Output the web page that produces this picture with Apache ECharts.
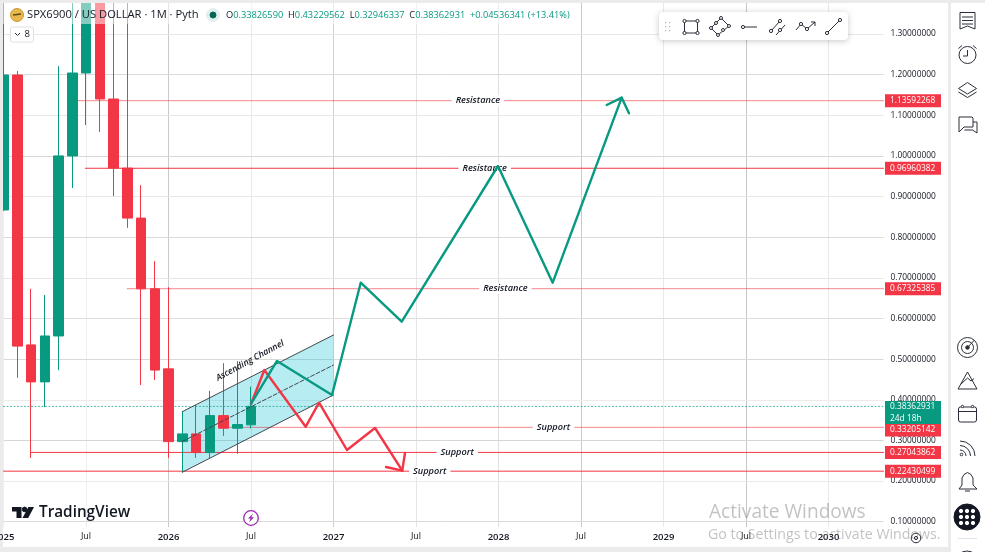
<!DOCTYPE html>
<html>
<head>
<meta charset="utf-8">
<title>SPX6900 / US DOLLAR</title>
<style>html,body{margin:0;padding:0;background:#ebebeb}#chart{width:985px;height:552px}</style>
<script src="https://cdn.jsdelivr.net/npm/echarts@6/dist/echarts.min.js"></script>
</head>
<body>
<div id="chart"></div>
<script>
// Monthly candles, months counted from Jan 2025: [month, open, close, low, high]
const candles = [
  [0, 0.867, 1.199, 0.865, 1.45],
  [1, 1.199, 0.532, 0.454, 1.209],
  [2, 0.535, 0.444, 0.257, 0.673],
  [3, 0.444, 0.557, 0.382, 0.658],
  [4, 0.557, 1.000, 0.473, 1.221],
  [5, 1.000, 1.204, 0.921, 1.45],
  [6, 1.204, 1.42, 1.076, 1.5],
  [7, 1.42, 1.140, 1.059, 1.5],
  [8, 1.140, 0.970, 0.901, 1.45],
  [9, 0.970, 0.847, 0.823, 1.45],
  [10, 0.847, 0.673, 0.436, 0.928],
  [11, 0.673, 0.473, 0.449, 0.741],
  [12, 0.476, 0.297, 0.257, 0.677],
  [13, 0.297, 0.316, 0.2215, 0.3706],
  [14, 0.316, 0.270, 0.257, 0.387],
  [15, 0.270, 0.361, 0.257, 0.422],
  [16, 0.361, 0.330, 0.311, 0.490],
  [17, 0.330, 0.339, 0.267, 0.495],
  [18, 0.33826590, 0.38362931, 0.32946337, 0.43229562]
];

const monthLabels = ['2025', 'Jul', '2026', 'Jul', '2027', 'Jul', '2028', 'Jul', '2029', 'Jul', '2030'];
const priceTicks = ['0.10000000', '0.20000000', '0.30000000', '0.40000000', '0.50000000', '0.60000000',
  '0.70000000', '0.80000000', '0.90000000', '1.00000000', '1.10000000', '1.20000000', '1.30000000'];

// Horizontal levels drawn on the chart
const levelPrices = [1.13592268, 0.96960382, 0.67325385, 0.33205142, 0.27043862, 0.22430499];
const levelStarts = [5.35, 5.95, 9, 16.4, 2, 0];
const levelNames = ['Resistance', 'Resistance', 'Resistance', 'Support', 'Support', 'Support'];
const levelNameMonths = [34.5, 35, 36.5, 40, 33, 31];
const lastClose = 0.38362931;

// Ascending channel, month and price at both ends
const channelUpper = [[13, 0.3706], [24, 0.5594]];
const channelMiddle = [[13, 0.2973], [24, 0.4855]];
const channelLower = [[13, 0.2215], [24, 0.4117]];

// Projected paths with their arrow heads
const bullPath = [[18, 0.3896], [19.89, 0.4954], [23.89, 0.4117], [25.98, 0.6881], [28.96, 0.5921],
  [35.96, 0.9752], [39.94, 0.6881], [44.96, 1.1433]];
const bullHead = [[43.87, 1.1253], [44.96, 1.1433], [45.49, 1.1049]];
const bearPath = [[18, 0.3896], [18.97, 0.4732], [21.98, 0.3337], [22.95, 0.3928], [24.98, 0.2764],
  [27.02, 0.3305], [29.0, 0.2255]];
const bearHead = [[27.82, 0.2346], [29.0, 0.2255], [29.2, 0.2690]];

const GREEN = '#089981', RED = '#f23645', INK = '#2a2e39', TEXT = '#131722';
const FONT = '"Open Sans", sans-serif';

function rect(x, y, width, height, fill, z, extra) {
  return Object.assign({ type: 'rect', silent: true, z, shape: { x, y, width, height }, style: { fill } }, extra || {});
}
function label(x, y, text, font, fill, z, extra) {
  return { type: 'text', silent: true, z, style: Object.assign({ x, y, text, font, fill, textVerticalAlign: 'middle' }, extra || {}) };
}
function stroke(points, color, z, width) {
  return { type: 'polyline', silent: true, z, shape: { points }, style: { stroke: color, lineWidth: width || 1, fill: 'none' } };
}
function fillPoly(points, color, z) {
  return { type: 'polygon', silent: true, z, shape: { points }, style: { fill: color } };
}
function ring(cx, cy, r, color, z, fill, width) {
  return { type: 'circle', silent: true, z, shape: { cx, cy, r }, style: { stroke: color, fill: fill || 'none', lineWidth: width || 1 } };
}
function arc(cx, cy, r, color, z) {
  return { type: 'arc', silent: true, z, shape: { cx, cy, r, startAngle: -Math.PI / 2, endAngle: 0 }, style: { stroke: color, lineWidth: 1, fill: 'none' } };
}

// Page panels, all under the axes
const panels = [rect(3, 3, 945, 544, '#ffffff', -10), rect(951, 3, 34, 549, '#ffffff', -10)];

// Masks over the overflowing price scale and the axis strip
const masks = [
  rect(3, 527, 945, 20, '#ffffff', 20),
  rect(0, 547, 951, 5, '#ebebeb', 21),
  rect(0, 0, 985, 3, '#ebebeb', 21),
  rect(0, 0, 3, 552, '#ebebeb', 21)
];

// Symbol header
const header = [
  rect(3, 3, 570, 21, 'rgba(255,255,255,0.5)', 22),
  ring(17, 15, 6.5, '#c99a2e', 23, '#e6b84e'),
  stroke([[13, 15], [21, 14]], '#5d4a1a', 24, 1.5),
  label(27, 15, 'SPX6900 / US DOLLAR · 1M · Pyth', '11.2px ' + FONT, TEXT, 24),
  ring(213, 15, 6.5, '#dff0ed', 23, '#dff0ed'),
  ring(213, 15, 3, '#056656', 24, '#056656'),
  label(226, 15, '{k|O}{v|0.33826590}  {k|H}{v|0.43229562}  {k|L}{v|0.32946337}  {k|C}{v|0.38362931}  {v|+0.04536341 (+13.41%)}',
    '9.25px ' + FONT, GREEN, 24, { rich: { k: { fill: TEXT, font: '9.25px ' + FONT }, v: { fill: GREEN, font: '9.25px ' + FONT } } }),
  { type: 'rect', silent: true, z: 24, shape: { x: 10.5, y: 27, width: 23, height: 15, r: 2 }, style: { fill: '#fff', stroke: '#dfe1e6', lineWidth: 1 } },
  stroke([[15, 33], [17.5, 35.5], [20, 33]], INK, 25),
  label(24.5, 34.5, '8', '9.5px ' + FONT, TEXT, 25)
];

// Drawing-tool palette
const palette = [
  { type: 'rect', silent: true, z: 26, shape: { x: 659, y: 12, width: 189, height: 28, r: 4 },
    style: { fill: '#fff', shadowBlur: 6, shadowColor: 'rgba(0,0,0,0.22)', shadowOffsetY: 1 } },
  ...[665, 669].flatMap(x => [22, 26, 30].map(y => rect(x, y, 1.2, 1.2, '#b2b5be', 27))),
  stroke([[684.5, 21], [697.5, 21], [697.5, 33], [684.5, 33], [684.5, 21]], INK, 27),
  ...[[684.5, 21], [697.5, 21], [697.5, 33], [684.5, 33]].map(p => ring(p[0], p[1], 1.6, INK, 28, '#fff')),
  stroke([[711, 28], [721, 18], [729, 26], [718, 35], [711, 28]], INK, 27),
  ...[[711, 28], [716, 23], [721, 18], [729, 26], [723, 30], [718, 35]].map(p => ring(p[0], p[1], 1.5, INK, 28, '#fff')),
  stroke([[743, 27], [757, 27]], INK, 27),
  ring(743, 27, 1.6, INK, 28, '#fff'),
  stroke([[771, 31], [780, 21]], INK, 27), stroke([[776, 35], [785, 25]], INK, 27),
  ...[[771, 31], [780, 21], [780, 30]].map(p => ring(p[0], p[1], 1.6, INK, 28, '#fff')),
  stroke([[796, 30], [801, 24], [807, 29], [815, 22]], INK, 27),
  stroke([[811, 22], [815, 22], [815, 26]], INK, 27),
  ...[[801, 24], [807, 29]].map(p => ring(p[0], p[1], 1.6, INK, 28, '#fff')),
  stroke([[827, 33], [840, 20]], INK, 27),
  ...[[827, 33], [840, 20]].map(p => ring(p[0], p[1], 1.6, INK, 28, '#fff'))
];

// Right-hand toolbar
const toolbar = [
  stroke([[960, 12.5], [975, 12.5], [975, 29], [967.5, 26], [960, 29], [960, 12.5]], INK, 5),
  stroke([[962, 17], [973, 17]], INK, 5), stroke([[962, 20.5], [973, 20.5]], INK, 5), stroke([[962, 24], [973, 24]], INK, 5),
  ring(967.5, 55, 8.5, INK, 5),
  stroke([[967.5, 50], [967.5, 56], [963, 56]], INK, 5),
  stroke([[958.5, 48.5], [962, 45.5]], INK, 5), stroke([[973, 45.5], [976.5, 48.5]], INK, 5),
  stroke([[958.5, 88.5], [967.5, 82.5], [976.5, 88.5], [967.5, 94], [958.5, 88.5]], INK, 5),
  stroke([[958.5, 92], [967.5, 97.5], [976.5, 92]], INK, 5),
  stroke([[959, 117], [972, 117], [973, 118], [973, 127], [964, 127], [959, 132], [959, 117]], INK, 5),
  stroke([[973, 122], [977, 122], [977, 133], [972.5, 130], [964.5, 130]], INK, 5),
  ring(967.5, 347.5, 10, INK, 5), ring(967.5, 347.5, 6, INK, 5), ring(967.5, 347.5, 1.8, INK, 5, INK),
  stroke([[967.5, 347.5], [974.5, 340]], INK, 5),
  stroke([[958, 389], [977, 389], [967.5, 372], [958, 389]], INK, 5),
  stroke([[961, 384], [967.5, 378], [971, 381], [974, 378.5]], INK, 5),
  { type: 'rect', silent: true, z: 5, shape: { x: 958.5, y: 407, width: 18, height: 15, r: 2 }, style: { fill: 'none', stroke: INK, lineWidth: 1 } },
  stroke([[958.5, 411.5], [976.5, 411.5]], INK, 5),
  ring(962.5, 406.5, 1.2, INK, 6, '#fff'), ring(972.5, 406.5, 1.2, INK, 6, '#fff'),
  ring(961.5, 454.5, 1.3, INK, 5),
  arc(960, 456, 6, INK, 5), arc(960, 456, 10.5, INK, 5), arc(960, 456, 15, INK, 5),
  stroke([[959, 489], [962, 485], [962, 478], [964, 474.5], [967.5, 472.5], [971, 474.5], [973, 478], [973, 485], [977, 489], [959, 489]], INK, 5),
  stroke([[965, 491], [970, 491]], INK, 5),
  ring(967, 517, 13, TEXT, 5, TEXT),
  ...[961, 967, 973].flatMap(x => [511, 517, 523].map(y => ring(x, y, 1.7, '#fff', 6, '#fff'))),
  rect(958, 538, 19, 1, '#e0e3eb', 5),
  ring(967, 563, 12, INK, 5),
  ring(916, 538, 4.8, INK, 30), ring(916, 538, 1.6, INK, 30)
];

// Maker mark, session icon and the system notice
const overlays = [
  fillPoly([[12, 507], [21.5, 507], [21.5, 518], [16.5, 518], [16.5, 511.5], [12, 511.5]], TEXT, 23),
  ring(24.6, 509.4, 2.3, TEXT, 23, TEXT),
  fillPoly([[34, 507], [28.2, 518], [22.5, 518], [28.4, 507]], TEXT, 23),
  label(39, 512.5, 'TradingView', '600 15.3px ' + FONT, TEXT, 23),
  ring(251, 518, 7.3, '#9c27b0', 23, '#fff', 1.3),
  fillPoly([[253, 513.5], [248, 518.5], [250.6, 518.5], [249, 522.5], [254, 517.3], [251.4, 517.3]], '#9c27b0', 24),
  label(709, 512.5, 'Activate Windows', '19.1px ' + FONT, 'rgba(110,110,110,0.42)', 40),
  label(708, 535, 'Go to Settings to activate Windows.', '14.2px ' + FONT, 'rgba(110,110,110,0.42)', 40)
];

// Two-ended straight or broken line in data coordinates
function pathSeries(data, color, width, z, type, opacity) {
  return {
    type: 'line', data, z, symbol: 'none', silent: true, animation: false, clip: true,
    lineStyle: { color, width, type: type || 'solid', opacity: opacity === undefined ? 1 : opacity, cap: 'round', join: 'round' }
  };
}

const tagItems = [
  ...levelPrices.map((price, i) => ({
    value: [64, price],
    label: { backgroundColor: RED, offset: [0, i === 3 ? 2.6 : 0] }
  })),
  {
    value: [64, lastClose],
    label: { backgroundColor: GREEN, offset: [0, 6], height: 23, lineHeight: 11.5,
      formatter: lastClose.toFixed(8) + '\n24d 18h' }
  }
];

// The first, third and fourth levels sit between pixel rows and read paler
const levelOpacity = [0.6, 1, 0.6, 0.6, 1, 1];

const option = {
  animation: false,
  backgroundColor: '#ebebeb',
  grid: { left: 3.5, width: 880, top: -6.64, height: 568.96, outerBoundsMode: 'none' },
  xAxis: [
    {
      type: 'value', min: 0, max: 64, interval: 6, position: 'bottom',
      axisLine: { show: false }, axisTick: { show: false }, axisLabel: { show: false },
      splitLine: {
        show: true, showMaxLine: false,
        lineStyle: { width: 1, color: ['#f0f0f0', '#eeeeee', '#c9cacc', '#e8e8e8', '#cfd0d2', '#e4e4e4', '#dfdfdf', '#c9cacc', '#e9e9e9', '#c6c7c9', '#e9e9e9'] }
      }
    },
    {
      type: 'value', min: 0, max: 64, interval: 6, position: 'bottom', offset: -35.3, z: 25,
      axisLine: { show: false }, axisTick: { show: false }, splitLine: { show: false },
      axisLabel: {
        margin: 5, color: TEXT, fontFamily: FONT, fontSize: 9, hideOverlap: false, showMaxLabel: false,
        formatter: v => {
          const name = monthLabels[v / 6];
          if (!name) return '';
          return name === 'Jul' ? name : '{y|' + name + '}';
        },
        rich: { y: { fontFamily: FONT, fontSize: 9.5, fontWeight: 600, color: TEXT } }
      }
    }
  ],
  yAxis: [{
    type: 'value', min: 0, max: 1.4, interval: 0.1, position: 'right', z: 1,
    axisLine: { show: false }, axisTick: { show: false },
    axisLabel: {
      margin: 7, color: TEXT, fontFamily: FONT, fontSize: 8.4, align: 'left', showMinLabel: false, showMaxLabel: false,
      formatter: v => priceTicks[Math.round(v * 10) - 1] || ''
    },
    splitLine: {
      show: true,
      lineStyle: { width: 1, color: ['#e4e4e4', '#d9d9d9', '#eaeaea', '#d6d6d6', '#ececec', '#d9d9d9', '#dedede', '#e6e6e6', '#dadada', '#e8e8e8', '#d8d8d8', '#e8e8e8', '#dadada', '#e8e8e8', '#e8e8e8'] }
    }
  }],
  series: [
    {
      // Channel fill
      type: 'custom', z: 2, silent: true, clip: true, coordinateSystem: 'cartesian2d',
      data: [[channelUpper[0][0], channelUpper[0][1], channelUpper[1][0], channelUpper[1][1],
              channelLower[1][0], channelLower[1][1], channelLower[0][0], channelLower[0][1]]],
      encode: { x: [0, 2, 4, 6], y: [1, 3, 5, 7] },
      renderItem: (params, api) => ({
        type: 'polygon',
        shape: { points: [0, 2, 4, 6].map(d => api.coord([api.value(d), api.value(d + 1)])) },
        style: { fill: 'rgba(0,188,212,0.28)' }
      })
    },
    ...levelPrices.map((price, i) => pathSeries([[levelStarts[i], price], [64, price]], RED, 1, 3, 'solid', levelOpacity[i])),
    pathSeries([[0, lastClose], [64, lastClose]], GREEN, 1, 3, [1, 2.5], 0.75),
    {
      // Level captions, each breaking its own line
      type: 'scatter', z: 4, symbolSize: 0, silent: true, itemStyle: { opacity: 1 },
      data: levelPrices.map((price, i) => ({ value: [levelNameMonths[i], price], name: levelNames[i] })),
      label: {
        show: true, position: 'inside', formatter: p => p.name, color: TEXT,
        fontFamily: FONT, fontSize: 9.2, fontStyle: 'italic', fontWeight: 600,
        backgroundColor: '#fff', padding: [1, 4]
      }
    },
    {
      type: 'candlestick', z: 5, barWidth: 10, silent: true, clip: true, data: candles,
      itemStyle: { color: GREEN, color0: RED, borderColor: GREEN, borderColor0: RED, borderWidth: 1 }
    },
    pathSeries(channelUpper, '#43474f', 1, 6),
    pathSeries(channelLower, '#43474f', 1, 6),
    pathSeries(channelMiddle, '#43474f', 1, 6, 'dashed'),
    {
      type: 'scatter', z: 6, symbolSize: 0, silent: true, itemStyle: { opacity: 1 },
      data: [{ value: [17.93, 0.4961], name: 'Ascending Channel' }],
      label: {
        show: true, position: 'inside', rotate: 28.5, formatter: p => p.name, color: TEXT,
        fontFamily: FONT, fontSize: 8.8, fontStyle: 'italic', fontWeight: 600
      }
    },
    pathSeries(bearPath, RED, 2.4, 7),
    pathSeries(bearHead, RED, 2.4, 7),
    pathSeries(bullPath, GREEN, 2.4, 8),
    pathSeries(bullHead, GREEN, 2.4, 8),
    {
      // Price tags on the scale
      type: 'scatter', z: 12, symbolSize: 0, silent: true, clip: false, itemStyle: { opacity: 1 },
      data: tagItems,
      label: {
        show: true, position: 'right', distance: 1.5, color: '#fff', fontFamily: FONT, fontSize: 8.4,
        width: 51, height: 13, lineHeight: 13, padding: [0, 0, 0, 5],
        formatter: p => p.value[1].toFixed(8)
      }
    }
  ],
  graphic: { elements: [...panels, ...masks, ...header, ...palette, ...toolbar, ...overlays] }
};

echarts.init(document.getElementById('chart'), null, { renderer: 'canvas' }).setOption(option);
</script>
</body>
</html>
